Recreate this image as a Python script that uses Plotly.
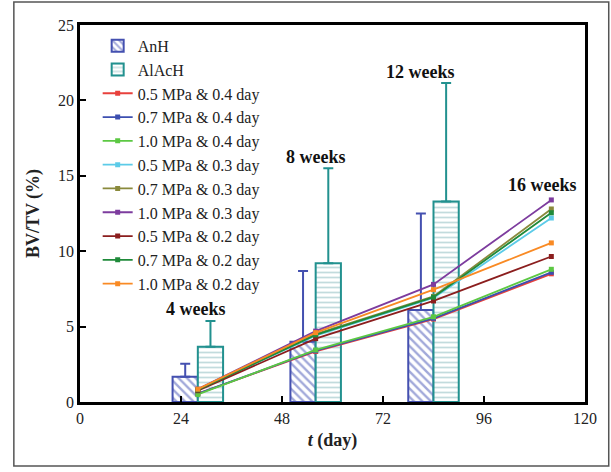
import plotly.graph_objects as go

# ---- data ----
days = [28, 56, 84, 112]
bar_days = [28, 56, 84]
anh_mean = [1.68, 4.0, 6.1]
anh_err = [0.86, 4.69, 6.4]
alach_mean = [3.67, 9.2, 13.3]
alach_err = [1.7, 6.3, 7.85]

series_names = [
    "0.5 MPa & 0.4 day", "0.7 MPa & 0.4 day", "1.0 MPa & 0.4 day",
    "0.5 MPa & 0.3 day", "0.7 MPa & 0.3 day", "1.0 MPa & 0.3 day",
    "0.5 MPa & 0.2 day", "0.7 MPa & 0.2 day", "1.0 MPa & 0.2 day",
]
s_05_04 = [0.55, 3.35, 5.5, 8.5]
s_07_04 = [0.55, 3.4, 5.55, 8.6]
s_10_04 = [0.5, 3.45, 5.65, 8.8]
s_05_03 = [0.8, 4.4, 6.9, 12.2]
s_07_03 = [0.8, 4.5, 7.0, 12.8]
s_10_03 = [0.85, 4.7, 7.8, 13.4]
s_05_02 = [0.75, 4.2, 6.7, 9.65]
s_07_02 = [0.8, 4.45, 6.95, 12.55]
s_10_02 = [0.85, 4.6, 7.45, 10.55]
series_values = [s_05_04, s_07_04, s_10_04, s_05_03, s_07_03, s_10_03,
                 s_05_02, s_07_02, s_10_02]
series_colors = ["#e8413c", "#3d4fb0", "#5cc843", "#5ccbe8", "#8a8a3c",
                 "#7d3c9e", "#8b1e1e", "#1f8a3a", "#f98a24"]

week_labels = ["4 weeks", "8 weeks", "12 weeks", "16 weeks"]
week_label_x = [27.5, 56, 81, 110]
week_label_y = [6.2, 16.25, 21.9, 14.4]

x_ticks = [0, 24, 48, 72, 96, 120]
y_ticks = [0, 5, 10, 15, 20, 25]

SERIF = "Liberation Serif, Times New Roman, serif"

fig = go.Figure()

fig.add_trace(go.Bar(
    x=bar_days, y=anh_mean, width=6, offset=-6, name="AnH",
    marker=dict(color="white", line=dict(color="#4450b0", width=2),
                pattern=dict(shape="\\", fgcolor="#4352b4", bgcolor="white",
                             size=6, solidity=0.4)),
    error_y=dict(type="data", array=anh_err, arrayminus=[0] * len(anh_err),
                 symmetric=False, color="#4450b0", thickness=2, width=5),
))
fig.add_trace(go.Bar(
    x=bar_days, y=alach_mean, width=6, offset=0, name="AlAcH",
    marker=dict(color="white", line=dict(color="#22918f", width=2),
                pattern=dict(shape="-", fgcolor="#86b8bc", bgcolor="white",
                             size=5, solidity=0.35)),
    error_y=dict(type="data", array=alach_err, arrayminus=[0] * len(alach_err),
                 symmetric=False, color="#22918f", thickness=2, width=5),
))

for name, vals, col in zip(series_names, series_values, series_colors):
    fig.add_trace(go.Scatter(
        x=days, y=vals, name=name, mode="lines+markers",
        line=dict(color=col, width=1.8),
        marker=dict(symbol="square", size=5, color=col),
    ))

for txt, xx, yy in zip(week_labels, week_label_x, week_label_y):
    fig.add_annotation(x=xx, y=yy, text="<b>" + txt + "</b>", showarrow=False,
                       font=dict(family=SERIF, size=18, color="#111"),
                       xanchor="center", yanchor="middle")

# outer frame
fig.add_shape(type="rect", xref="paper", yref="paper",
              x0=-0.131, x1=1.047, y0=-0.17, y1=1.061,
              line=dict(color="#555555", width=1.5), fillcolor="rgba(0,0,0,0)",
              layer="below")

fig.update_layout(
    width=611, height=472,
    margin=dict(l=80, r=26, t=25, b=70),
    paper_bgcolor="white", plot_bgcolor="white",
    font=dict(family=SERIF, size=16, color="#222"),
    barmode="overlay",
    showlegend=True,
    legend=dict(x=0.035, y=0.99, xanchor="left", yanchor="top",
                bgcolor="rgba(0,0,0,0)", font=dict(family=SERIF, size=16),
                tracegroupgap=0, itemwidth=30),
    xaxis=dict(range=[0, 120], tickvals=x_ticks, ticks="inside", ticklen=6,
               tickwidth=2, tickcolor="black", showline=True, linecolor="black",
               linewidth=2.5, mirror=True, showgrid=False, zeroline=False,
               tickfont=dict(family=SERIF, size=16),
               title=dict(text="<b><i>t</i> (day)</b>", font=dict(family=SERIF, size=18),
                          standoff=8)),
    yaxis=dict(range=[0, 25], tickvals=y_ticks, ticks="inside", ticklen=6,
               tickwidth=2, tickcolor="black", showline=True, linecolor="black",
               linewidth=2.5, mirror=True, showgrid=False, zeroline=False,
               tickfont=dict(family=SERIF, size=16),
               title=dict(text="<b>BV/TV (%)</b>", font=dict(family=SERIF, size=18),
                          standoff=14)),
)

fig.write_html("out.html")
